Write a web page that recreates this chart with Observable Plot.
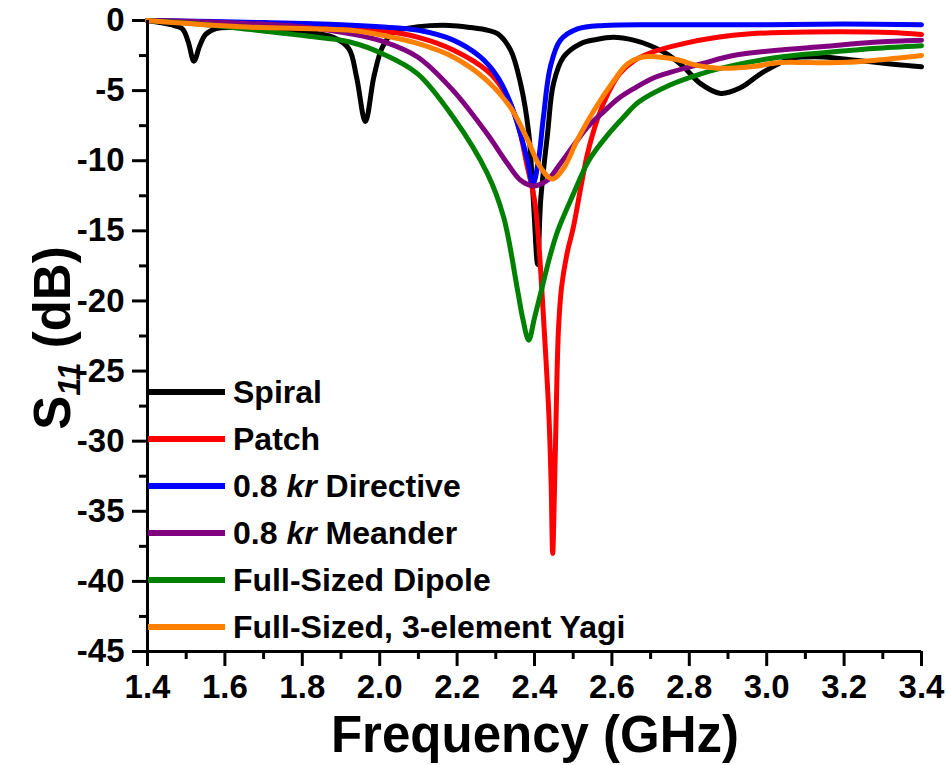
<!DOCTYPE html>
<html>
<head>
<meta charset="utf-8">
<script src="https://cdn.jsdelivr.net/npm/d3@7"></script>
<script src="https://cdn.jsdelivr.net/npm/@observablehq/plot@0.6"></script>
<style>
  body { margin: 0; background: #fff; }
  #chart { width: 949px; height: 765px; }
</style>
</head>
<body>
<div id="chart"></div>
<script>
// Measured return loss S11 (dB) versus frequency (GHz) for six antennas.
const spiralF = [1.40, 1.46, 1.49, 1.505, 1.52, 1.535, 1.55, 1.575, 1.62, 1.70, 1.80, 1.88, 1.92, 1.94, 1.963, 1.985, 2.007, 2.036, 2.10, 2.18, 2.235, 2.28, 2.305, 2.338, 2.364, 2.385, 2.397, 2.408, 2.416, 2.434, 2.449, 2.475, 2.519, 2.56, 2.604, 2.656, 2.70, 2.743, 2.785, 2.829, 2.881, 2.932, 2.984, 3.03, 3.06, 3.10, 3.147, 3.235, 3.32, 3.36, 3.40];
const spiralDb = [0, -0.3, -0.6, -1.5, -2.9, -1.8, -1.0, -0.6, -0.5, -0.6, -0.8, -1.2, -2.0, -4.0, -7.2, -4.0, -1.9, -0.85, -0.45, -0.35, -0.5, -0.7, -0.95, -2.1, -4.5, -8.0, -12.8, -17.4, -12.8, -8.0, -4.5, -2.6, -1.65, -1.35, -1.2, -1.4, -1.8, -2.4, -3.3, -4.5, -5.2, -4.8, -3.8, -3.1, -2.7, -2.6, -2.6, -2.85, -3.1, -3.2, -3.3];

const patchF = [1.40, 1.60, 1.80, 2.00, 2.10, 2.19, 2.278, 2.32, 2.356, 2.382, 2.40, 2.41, 2.425, 2.437, 2.443, 2.447, 2.452, 2.456, 2.462, 2.47, 2.485, 2.50, 2.519, 2.537, 2.563, 2.59, 2.62, 2.656, 2.70, 2.785, 2.873, 2.958, 3.04, 3.19, 3.32, 3.40];
const patchDb = [0, -0.15, -0.35, -0.7, -1.2, -2.1, -3.6, -5.0, -7.3, -10.5, -12.8, -15.5, -22.0, -28.0, -33.0, -38.0, -33.0, -28.0, -22.0, -19.0, -16.5, -14.8, -12.0, -9.5, -7.0, -5.2, -3.8, -2.9, -2.3, -1.65, -1.2, -0.95, -0.85, -0.8, -0.85, -1.0];

const directiveF = [1.40, 1.70, 1.90, 2.00, 2.10, 2.19, 2.26, 2.304, 2.338, 2.364, 2.382, 2.396, 2.41, 2.423, 2.441, 2.467, 2.511, 2.58, 2.75, 3.00, 3.20, 3.40];
const directiveDb = [0, -0.15, -0.3, -0.45, -0.7, -1.4, -2.6, -4.0, -5.9, -8.1, -10.0, -11.7, -10.0, -6.9, -3.3, -1.4, -0.6, -0.35, -0.3, -0.3, -0.25, -0.3];

const meanderF = [1.40, 1.60, 1.80, 1.925, 2.01, 2.098, 2.19, 2.278, 2.33, 2.364, 2.398, 2.433, 2.467, 2.537, 2.571, 2.62, 2.66, 2.707, 2.75, 2.83, 2.914, 3.036, 3.147, 3.276, 3.40];
const meanderDb = [0, -0.15, -0.45, -0.95, -1.5, -2.6, -5.0, -8.1, -10.2, -11.4, -11.8, -11.4, -10.2, -7.6, -6.7, -5.5, -4.8, -4.1, -3.7, -3.1, -2.5, -2.1, -1.85, -1.55, -1.4];

const dipoleF = [1.40, 1.55, 1.666, 1.839, 1.925, 2.01, 2.098, 2.19, 2.278, 2.32, 2.356, 2.37, 2.385, 2.40, 2.42, 2.44, 2.46, 2.50, 2.54, 2.585, 2.63, 2.67, 2.75, 2.83, 2.914, 3.036, 3.147, 3.276, 3.40];
const dipoleDb = [0, -0.3, -0.65, -1.2, -1.55, -2.4, -3.8, -6.9, -10.9, -14.0, -19.2, -21.3, -22.8, -21.2, -19.0, -16.8, -15.0, -12.4, -10.0, -8.3, -6.9, -5.8, -4.6, -3.8, -3.2, -2.6, -2.3, -2.0, -1.8];

const yagiF = [1.40, 1.64, 1.925, 2.01, 2.10, 2.19, 2.278, 2.338, 2.382, 2.416, 2.446, 2.476, 2.511, 2.554, 2.605, 2.64, 2.68, 2.72, 2.77, 2.82, 2.873, 2.958, 3.036, 3.106, 3.19, 3.276, 3.40];
const yagiDb = [0, -0.45, -0.7, -1.07, -1.65, -2.6, -4.3, -6.2, -8.5, -10.5, -11.3, -10.5, -8.5, -6.4, -4.3, -3.1, -2.6, -2.6, -2.8, -3.2, -3.4, -3.3, -3.0, -3.0, -3.0, -2.85, -2.5];

const seriesNames = ["Spiral", "Patch", "0.8 kr Directive", "0.8 kr Meander", "Full-Sized Dipole", "Full-Sized, 3-element Yagi"];
const seriesF = [spiralF, patchF, directiveF, meanderF, dipoleF, yagiF];
const seriesDb = [spiralDb, patchDb, directiveDb, meanderDb, dipoleDb, yagiDb];

const xTicks = [1.4, 1.6, 1.8, 2.0, 2.2, 2.4, 2.6, 2.8, 3.0, 3.2, 3.4];
const xMinorTicks = [1.5, 1.7, 1.9, 2.1, 2.3, 2.5, 2.7, 2.9, 3.1, 3.3];
const yTicks = [0, -5, -10, -15, -20, -25, -30, -35, -40, -45];
const yMinorTicks = [-2.5, -7.5, -12.5, -17.5, -22.5, -27.5, -32.5, -37.5, -42.5];

// Line colours, one per series.
const seriesColors = ["#000000", "#ff0000", "#0000ff", "#800080", "#008000", "#ff8000"];

const rows = seriesNames.flatMap((name, i) =>
  seriesF[i].map((f, j) => ({series: name, f, db: seriesDb[i][j]}))
);

const font = "'Liberation Sans', Arial, Helvetica, sans-serif";

const chart = Plot.plot({
  width: 949,
  height: 765,
  marginLeft: 147,
  marginRight: 28,
  marginTop: 20,
  marginBottom: 114,
  style: {fontFamily: font, fontWeight: "bold", fontSize: "33px", color: "#000", background: "#fff"},
  x: {domain: [1.4, 3.4]},
  y: {domain: [-45, 0]},
  marks: [
    Plot.axisX(xTicks, {tickSize: 15, tickPadding: 8, fontSize: 33, strokeWidth: 3, tickFormat: d3.format(".1f"), label: null}),
    Plot.axisX(xMinorTicks, {tickSize: 8, strokeWidth: 3, tickFormat: () => "", label: null}),
    Plot.axisY(yTicks, {tickSize: 15, tickPadding: 8, fontSize: 33, strokeWidth: 3, tickFormat: d => String(d), label: null}),
    Plot.axisY(yMinorTicks, {tickSize: 8, strokeWidth: 3, tickFormat: () => "", label: null}),
    ...seriesNames.map((name, i) =>
      Plot.line(rows.filter(d => d.series === name), {
        x: "f", y: "db", stroke: seriesColors[i], strokeWidth: 5, curve: "catmull-rom"
      })
    ),
    Plot.ruleX([1.4], {stroke: "#000", strokeWidth: 3}),
    Plot.ruleY([-45], {stroke: "#000", strokeWidth: 3})
  ]
});

document.getElementById("chart").appendChild(chart);

const svg = d3.select(chart);
// Axis tick labels in large bold type
svg.selectAll("g[aria-label$='tick label']")
  .attr("font-size", 33).attr("font-weight", "bold")
  .selectAll("text").style("font-size", "33px");

// Y-axis title with italic subscript
const yTitle = svg.append("text")
  .attr("transform", "translate(70,338) rotate(-90)")
  .attr("text-anchor", "middle")
  .attr("font-family", font)
  .attr("font-weight", "bold")
  .attr("font-size", 51)
  .attr("fill", "#000");
yTitle.append("tspan").text("S");
yTitle.append("tspan").attr("font-size", 32).attr("font-style", "italic").attr("dy", 10).text("11");
yTitle.append("tspan").attr("dy", -10).text(" (dB)");

// X-axis title
svg.append("text")
  .attr("x", 535)
  .attr("y", 752)
  .attr("text-anchor", "middle")
  .attr("font-family", font)
  .attr("font-weight", "bold")
  .attr("font-size", 51)
  .attr("fill", "#000")
  .text("Frequency (GHz)");

// Legend in the lower-left of the plot area
const legend = svg.append("g")
  .attr("font-family", font)
  .attr("font-weight", "bold")
  .attr("font-size", 32)
  .attr("text-anchor", "start");
seriesNames.forEach((name, i) => {
  const cy = 392 + i * 47;
  legend.append("line")
    .attr("x1", 148).attr("x2", 225).attr("y1", cy).attr("y2", cy)
    .attr("stroke", seriesColors[i]).attr("stroke-width", 6);
  const t = legend.append("text").attr("x", 233).attr("y", cy + 11).attr("fill", "#000");
  name.split(/(kr)/).forEach(p => {
    if (!p) return;
    const span = t.append("tspan").text(p);
    if (p === "kr") span.attr("font-style", "italic");
  });
});
</script>
</body>
</html>
